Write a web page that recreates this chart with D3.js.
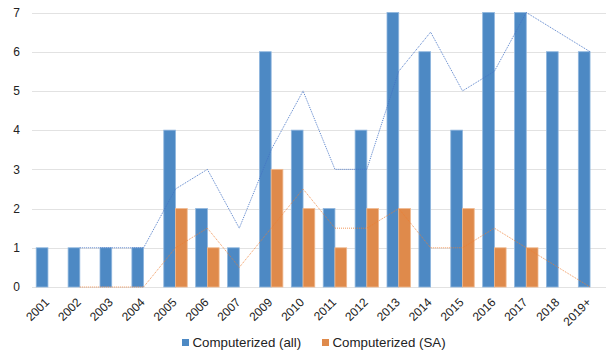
<!DOCTYPE html>
<html><head><meta charset="utf-8">
<script src="https://cdn.jsdelivr.net/npm/d3@7"></script>
<style>
body{margin:0;background:#fff;}
text{font-family:"Liberation Sans",Arial,sans-serif;fill:#222;}
</style></head>
<body><svg id="c" width="614" height="358"></svg>
<script>
const categories = ["2001","2002","2003","2004","2005","2006","2007","2009","2010","2011","2012","2013","2014","2015","2016","2017","2018","2019+"];
const allValues = [1,1,1,1,4,2,1,6,4,2,4,7,6,4,7,7,6,6];
const saValues  = [0,0,0,0,2,1,0,3,2,1,2,2,0,2,1,1,0,0];
// 2-period moving-average trend lines (start at 2nd category)
const allTrend = [null,1,1,1,2.5,3,1.5,3.5,5,3,3,5.5,6.5,5,5.5,7,6.5,6];
const saTrend  = [null,0,0,0,1,1.5,0.5,1.5,2.5,1.5,1.5,2,1,1,1.5,1,0.5,0];
const yTicks = [0,1,2,3,4,5,6,7];
const seriesNames = ["Computerized (all)","Computerized (SA)"];

const colors = ["#4d89c4","#df8a4b"];
const strokes = ["#8fb6de","#efb98f"];
const trendColors = ["#4472c4","#ed7d31"];

const svg = d3.select("#c");
const L = 32, R = 606, T = 12.5, B = 287;

const x = d3.scaleBand().domain(categories).range([L, R]).paddingInner(0).paddingOuter(0);
const y = d3.scaleLinear().domain([0, 7]).range([B, T]);
const inner = d3.scaleBand().domain([0,1]).range([0, x.bandwidth()]).paddingOuter(0.36).paddingInner(0);

// gridlines
svg.append("g").selectAll("line").data(yTicks).join("line")
  .attr("x1", L).attr("x2", R)
  .attr("y1", d => Math.round(y(d)) + 0.5).attr("y2", d => Math.round(y(d)) + 0.5)
  .attr("stroke", "#e2e2e2").attr("stroke-width", 1);

// y labels
svg.append("g").selectAll("text").data(yTicks).join("text")
  .attr("x", 20).attr("y", d => y(d)).attr("dy", "0.35em")
  .attr("text-anchor", "end").attr("font-size", 12).text(d => d);

// bars
const data = categories.map((c, i) => ({c, v: [allValues[i], saValues[i]]}));
const groups = svg.append("g").selectAll("g").data(data).join("g")
  .attr("transform", d => `translate(${x(d.c)},0)`);
groups.selectAll("rect").data(d => d.v.map((v, k) => ({v, k}))).join("rect")
  .filter(d => d.v > 0)
  .attr("x", d => inner(d.k)).attr("width", inner.bandwidth())
  .attr("y", d => y(d.v)).attr("height", d => y(0) - y(d.v))
  .attr("fill", d => colors[d.k]).attr("stroke", d => strokes[d.k]).attr("stroke-width", 0.8);

// trend lines
[allTrend, saTrend].forEach((arr, k) => {
  const line = d3.line()
    .defined(d => d.v !== null)
    .x(d => x(d.c) + x.bandwidth() / 2).y(d => y(d.v));
  svg.append("path")
    .datum(categories.map((c, i) => ({c, v: arr[i]})))
    .attr("d", line).attr("fill", "none")
    .attr("stroke", trendColors[k]).attr("stroke-width", 1)
    .attr("stroke-opacity", k ? 0.8 : 0.9)
    .attr("stroke-dasharray", "1,1");
});

// x labels
svg.append("g").selectAll("text").data(categories).join("text")
  .attr("transform", d => `translate(${x(d) + x.bandwidth() / 2 - 1},${B + 13}) rotate(-45)`)
  .attr("text-anchor", "end").attr("dy", "0.35em").attr("font-size", 12).text(d => d);

// legend
const leg = svg.append("g");
const legX = [182, 322];
seriesNames.forEach((n, k) => {
  leg.append("rect").attr("x", legX[k]).attr("y", 339).attr("width", 7).attr("height", 7).attr("fill", colors[k]);
  leg.append("text").attr("x", legX[k] + 10.5).attr("y", 342.5).attr("dy", "0.35em")
    .attr("font-size", 13.3).text(n);
});
</script></body></html>
